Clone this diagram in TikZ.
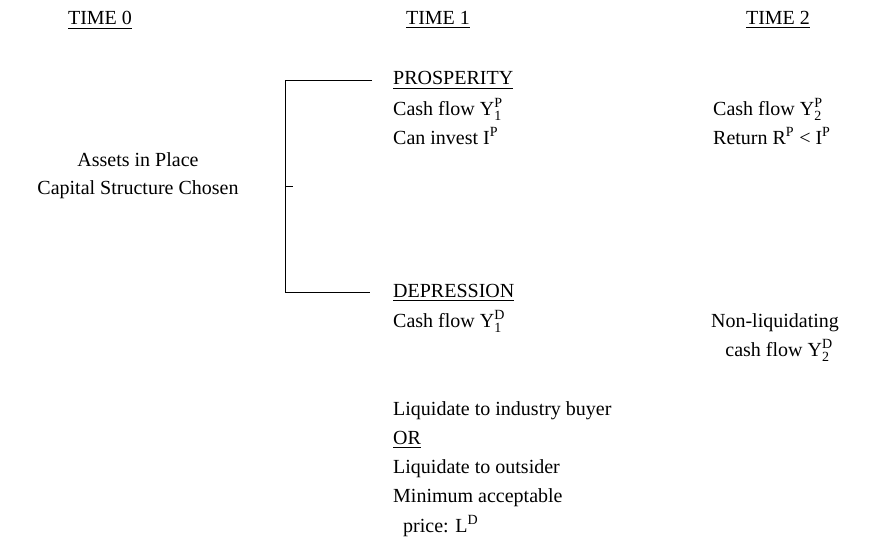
\documentclass[tikz,border=0pt]{standalone}
\usepackage{amsmath}
\usepackage{fontspec}
\setmainfont{Liberation Serif}
\usepackage{tikz}

\begin{document}
\begin{tikzpicture}[x=1pt,y=-1pt,
			txt/.style={anchor=base west,inner sep=0pt,font=\fontsize{20pt}{29pt}\selectfont},
			ctxt/.style={txt,anchor=base}]
			\useasboundingbox (0,0) rectangle (877,559);
			% time headings
			\node[ctxt] (t0) at (100,25) {\underline{TIME 0}};
			\node[ctxt] (t1) at (438,25) {\underline{TIME 1}};
			\node[ctxt] (t2) at (778,25) {\underline{TIME 2}};
			% time 0
			\node[ctxt] (assets) at (138,166) {Assets in Place};
			\node[ctxt] (capital) at (138,194) {Capital Structure Chosen};
			% prosperity
			\node[txt] (pros) at (393,85) {\underline{PROSPERITY}};
			\node[txt] (cfpone) at (393,115) {Cash flow Y$^{\text{P}}_{\text{1}}$};
			\node[txt] (invp) at (393,144) {Can invest I$^{\text{P}}$};
			\node[txt] (cfptwo) at (713,115) {Cash flow Y$^{\text{P}}_{\text{2}}$};
			\node[txt] (retp) at (713,144) {Return R$^{\text{P}}$ < I$^{\text{P}}$};
			% depression
			\node[txt] (depr) at (393,297) {\underline{DEPRESSION}};
			\node[txt] (cfdone) at (393,327) {Cash flow Y$^{\text{D}}_{\text{1}}$};
			\node[ctxt] (nonliq) at (775,327) {Non-liquidating};
			\node[ctxt] (cfdtwo) at (779,356) {cash flow Y$^{\text{D}}_{\text{2}}$};
			\node[txt] (liqind) at (393,415) {Liquidate to industry buyer};
			\node[txt] (or) at (393,444) {\underline{OR}};
			\node[txt] (liqout) at (393,473) {Liquidate to outsider};
			\node[txt] (minacc) at (393,502) {Minimum acceptable};
			\node[txt] (price) at (403,532) {price: L$^{\text{D}}$};
			% bracket
			\coordinate (fork) at (285,186);
			\draw[line width=0.8pt] ([xshift=-21pt]pros.west) -| (fork |- depr.west) -- ([xshift=-23pt]depr.west);
			\draw[line width=0.8pt] (fork) -- ++(8,0);
		\end{tikzpicture}
\end{document}
